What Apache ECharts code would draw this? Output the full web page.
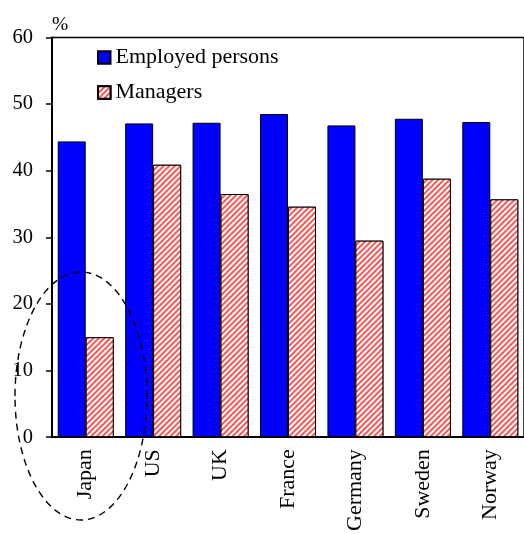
<!DOCTYPE html>
<html>
<head>
<meta charset="utf-8">
<script src="https://cdn.jsdelivr.net/npm/echarts@6/dist/echarts.min.js"></script>
<style>
html,body{margin:0;padding:0;background:#fff;}
#chart{width:524px;height:534px;}
</style>
</head>
<body>
<div id="chart"></div>
<script>
const categories = ['Japan', 'US', 'UK', 'France', 'Germany', 'Sweden', 'Norway'];
const employedPersons = [44.4, 47.1, 47.2, 48.5, 46.8, 47.8, 47.3];
const managers = [15.0, 40.9, 36.5, 34.6, 29.5, 38.8, 35.7];
const yTicks = [0, 10, 20, 30, 40, 50, 60];

const FONT = '"Liberation Serif", "Times New Roman", serif';

const hatch = {
  symbol: 'rect',
  symbolSize: 1,
  dashArrayX: [[1, 0]],
  dashArrayY: [1.1, 1.7],
  rotation: -Math.PI / 4,
  color: '#ff5555',
  backgroundColor: '#ffffff'
};

const chart = echarts.init(document.getElementById('chart'));
chart.setOption({
  animation: false,
  backgroundColor: '#fff',
  grid: {
    left: 52, right: -4, top: 37.5, bottom: 95.5,
    show: true, borderColor: '#000', borderWidth: 1.5, backgroundColor: 'transparent'
  },
  legend: {
    orient: 'vertical',
    left: 97, top: 46.5,
    padding: 0,
    icon: 'rect',
    itemWidth: 12.5, itemHeight: 12.5,
    itemGap: 13,
    textStyle: { fontFamily: FONT, fontSize: 22, color: '#000' },
    data: ['Employed persons', 'Managers']
  },
  xAxis: {
    type: 'category',
    data: categories,
    axisLine: { lineStyle: { color: '#000', width: 2 } },
    axisTick: { inside: true, length: 6, lineStyle: { color: '#000', width: 1.5 } },
    axisLabel: { rotate: 90, margin: 12, fontFamily: FONT, fontSize: 22, color: '#000' }
  },
  yAxis: {
    type: 'value',
    min: yTicks[0], max: yTicks[yTicks.length - 1], interval: 10,
    name: '%',
    nameLocation: 'end',
    nameGap: 3,
    nameTextStyle: { fontFamily: FONT, fontSize: 19.5, color: '#000', align: 'left' },
    splitLine: { show: false },
    axisLine: { show: true, lineStyle: { color: '#000', width: 2 } },
    axisTick: { show: true, inside: false, length: 6, lineStyle: { color: '#000', width: 1.5 } },
    axisLabel: { margin: 19, fontFamily: FONT, fontSize: 20.5, color: '#000' }
  },
  series: [
    {
      name: 'Employed persons',
      type: 'bar',
      data: employedPersons,
      barWidth: 28,
      barGap: '0%',
      itemStyle: { color: '#0000ff', borderColor: '#000', borderWidth: 1 }
    },
    {
      name: 'Managers',
      type: 'bar',
      data: managers,
      barWidth: 28,
      barGap: '0%',
      itemStyle: { color: '#ffffff', decal: hatch, borderColor: '#000', borderWidth: 1 }
    }
  ],
  graphic: [
    {
      type: 'ellipse',
      shape: { cx: 81, cy: 396, rx: 66, ry: 124 },
      style: { fill: null, stroke: '#000', lineWidth: 1.4, lineDash: [7, 5] },
      z: 100
    }
  ]
});
</script>
</body>
</html>
